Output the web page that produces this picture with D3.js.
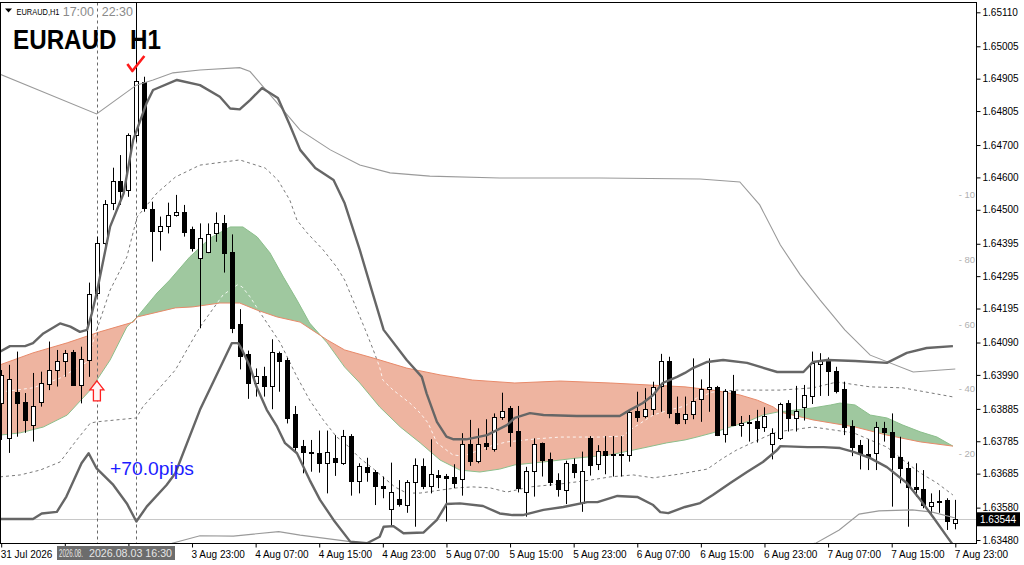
<!DOCTYPE html>
<html><head><meta charset="utf-8">
<script src="https://cdn.jsdelivr.net/npm/d3@7"></script>
<style>
body{margin:0;background:#fff;}
svg{display:block;font-family:"Liberation Sans",Arial,sans-serif;}
</style></head>
<body><svg id="c" width="1024" height="565"></svg>
<script>
// ---------- DATA ----------
const candleOpen = [1.63903,1.63794,1.63936,1.63905,1.63835,1.63907,1.63962,1.64005,1.64034,1.64062,
1.63959,1.64036,1.64242,1.64397,1.64520,1.64590,1.64561,1.64731,1.64896,1.64502,
1.64435,1.64451,1.64484,1.64492,1.64440,1.64352,1.64371,1.64429,1.64458,1.64371,
1.64147,1.64055,1.63966,1.63988,1.63957,1.64059,1.64036,1.63868,1.63770,1.63751,
1.63750,1.63717,1.63734,1.63719,1.63801,1.63663,1.63706,1.63691,1.63647,1.63576,
1.63607,1.63589,1.63660,1.63709,1.63648,1.63681,1.63678,1.63676,1.63668,1.63776,
1.63724,1.63779,1.63761,1.63859,1.63887,1.63817,1.63627,1.63693,1.63779,1.63729,
1.63665,1.63634,1.63714,1.63593,1.63794,1.63715,1.63755,1.63745,1.63746,1.63743,
1.63878,1.63863,1.63884,1.63956,1.64034,1.63873,1.63853,1.63868,1.63915,1.63946,
1.63952,1.63807,1.63940,1.63834,1.63844,1.63848,1.63830,1.63776,1.63796,1.63904,
1.63856,1.63890,1.63926,1.64024,1.64038,1.64003,1.63946,1.63832,1.63773,1.63746,
1.63748,1.63825,1.63815,1.63737,1.63703,1.63645,1.63638,1.63585,1.63601,1.63604,1.63533];
const candleHigh = [1.64005,1.64021,1.64062,1.63934,1.63996,1.64000,1.64093,1.64067,1.64067,1.64067,
1.64077,1.64275,1.64417,1.64530,1.64630,1.64669,1.64736,1.64910,1.64911,1.64525,
1.64479,1.64522,1.64546,1.64515,1.64448,1.64458,1.64458,1.64492,1.64484,1.64424,
1.64193,1.64065,1.64010,1.64015,1.64100,1.64062,1.64042,1.63894,1.63789,1.63789,
1.63818,1.63818,1.63804,1.63820,1.63807,1.63717,1.63734,1.63696,1.63676,1.63719,
1.63665,1.63665,1.63732,1.63732,1.63791,1.63696,1.63684,1.63714,1.63810,1.63851,
1.63825,1.63853,1.63871,1.63935,1.63894,1.63894,1.63706,1.63794,1.63781,1.63750,
1.63686,1.63725,1.63732,1.63753,1.63801,1.63773,1.63801,1.63801,1.63801,1.63882,
1.63938,1.63949,1.63969,1.64055,1.64046,1.63923,1.63923,1.64041,1.63976,1.64041,
1.63956,1.63946,1.63990,1.63863,1.63866,1.63882,1.63890,1.63825,1.63904,1.63912,
1.63956,1.63959,1.64062,1.64057,1.64044,1.64015,1.63969,1.63850,1.63789,1.63791,
1.63845,1.63845,1.63871,1.63799,1.63722,1.63717,1.63696,1.63624,1.63634,1.63609,1.63604];
const candleLow = [1.63789,1.63749,1.63799,1.63811,1.63784,1.63892,1.63943,1.63954,1.63984,1.63956,
1.63902,1.63984,1.64232,1.64381,1.64499,1.64515,1.64540,1.64710,1.64494,1.64340,
1.64374,1.64427,1.64479,1.64417,1.64371,1.64134,1.64366,1.64401,1.64306,1.64119,
1.64007,1.63916,1.63923,1.63923,1.63884,1.63938,1.63840,1.63753,1.63686,1.63691,
1.63688,1.63624,1.63678,1.63712,1.63617,1.63624,1.63660,1.63588,1.63609,1.63521,
1.63583,1.63564,1.63521,1.63637,1.63624,1.63640,1.63537,1.63640,1.63617,1.63709,
1.63717,1.63758,1.63753,1.63851,1.63768,1.63627,1.63552,1.63614,1.63676,1.63647,
1.63614,1.63591,1.63671,1.63567,1.63679,1.63696,1.63683,1.63676,1.63676,1.63722,
1.63845,1.63856,1.63866,1.63876,1.63856,1.63837,1.63838,1.63853,1.63845,1.63876,
1.63801,1.63781,1.63832,1.63799,1.63784,1.63781,1.63814,1.63729,1.63789,1.63815,
1.63815,1.63849,1.63900,1.63925,1.63925,1.63933,1.63804,1.63739,1.63698,1.63696,
1.63696,1.63784,1.63583,1.63655,1.63521,1.63614,1.63578,1.63557,1.63564,1.63511,1.63513];
const candleClose = [1.63990,1.63976,1.63902,1.63851,1.63895,1.63964,1.64005,1.64033,1.64059,1.63959,
1.64039,1.64239,1.64397,1.64518,1.64590,1.64559,1.64730,1.64899,1.64505,1.64435,
1.64450,1.64484,1.64492,1.64432,1.64381,1.64412,1.64425,1.64458,1.64367,1.64134,
1.64048,1.63966,1.63988,1.63957,1.64062,1.64033,1.63858,1.63768,1.63751,1.63749,
1.63717,1.63751,1.63720,1.63801,1.63662,1.63709,1.63691,1.63647,1.63641,1.63629,
1.63591,1.63660,1.63712,1.63647,1.63684,1.63676,1.63672,1.63657,1.63776,1.63724,
1.63776,1.63770,1.63859,1.63878,1.63815,1.63640,1.63693,1.63776,1.63727,1.63660,
1.63638,1.63717,1.63691,1.63693,1.63712,1.63755,1.63743,1.63742,1.63742,1.63876,
1.63859,1.63884,1.63954,1.64034,1.63873,1.63842,1.63868,1.63909,1.63946,1.63952,
1.63804,1.63940,1.63835,1.63840,1.63840,1.63827,1.63864,1.63810,1.63900,1.63856,
1.63878,1.63928,1.64026,1.64033,1.64003,1.63941,1.63830,1.63768,1.63748,1.63735,
1.63828,1.63813,1.63737,1.63701,1.63643,1.63638,1.63588,1.63598,1.63598,1.63540,1.63544];

const priceTicks = [1.65110,1.65005,1.64905,1.64805,1.64700,1.64600,1.64500,1.64395,1.64295,
1.64195,1.64090,1.63990,1.63885,1.63785,1.63685,1.63580,1.63480];
const lastPrice = 1.63544;
const timeTickIdx = [0,8,16,24,32,40,48,56,64,72,80,88,96,104,112,120];
// the 3 Aug 07:00 / 15:00 labels are hidden under the crosshair date box in the reference
const timeTickLabels = ["31 Jul 2026","","","3 Aug 23:00","4 Aug 07:00","4 Aug 15:00",
"4 Aug 23:00","5 Aug 07:00","5 Aug 15:00","5 Aug 23:00","6 Aug 07:00","6 Aug 15:00","6 Aug 23:00",
"7 Aug 07:00","7 Aug 15:00","7 Aug 23:00"];
const oscLevels = ["10","80","60","40","20"];
const oscLevelValues = [100,80,60,40,20];

const outerUpper = [[-0.15,1.64919],[12,1.64796],[17,1.64885],[19.1,1.64901],[21.6,1.64923],[25,1.64932],[30,1.64939],[31.3,1.64927],[34.4,1.64839],[37.6,1.64746],[41.4,1.64685],[45.1,1.64638],[48.9,1.64614],[53.9,1.64604],[62.7,1.64598],[75.3,1.64598],[87.9,1.64595],[92.9,1.64586],[95.4,1.64515],[98,1.64391],[100.5,1.64299],[103,1.64221],[106.1,1.64129],[109.3,1.64051],[114.7,1.63999],[120,1.64008]];
const outerLower = [[12,1.63380],[17,1.63400],[21.5,1.63470],[25,1.63493],[29.2,1.63492],[34.9,1.63506],[37.6,1.63495],[43.9,1.63475],[46,1.63470],[50,1.63440],[65,1.63400],[80,1.63400],[95,1.63430],[102.5,1.63471],[105.4,1.63511],[107.9,1.63560],[110.4,1.63570],[114.6,1.63573],[117.1,1.63566],[120,1.63548]];
const bandUpper = [[-0.15,1.64062],[1.1,1.64079],[3,1.64079],[4,1.64088],[5.3,1.64118],[7.4,1.64149],[8.7,1.64139],[9.9,1.64123],[10.8,1.64129],[11.4,1.64180],[12,1.64242],[13.7,1.64448],[15.4,1.64551],[16.6,1.64716],[18.3,1.64830],[19.1,1.64870],[22.1,1.64901],[25,1.64885],[27.5,1.64849],[28.8,1.64813],[30,1.64810],[31.3,1.64839],[32.8,1.64876],[34.8,1.64845],[36.3,1.64762],[37.6,1.64685],[39.5,1.64629],[41.8,1.64592],[43.2,1.64520],[45.1,1.64376],[46.6,1.64252],[48.1,1.64129],[51,1.64036],[52.9,1.63984],[53.5,1.63933],[54.8,1.63845],[56,1.63799],[56.9,1.63791],[58.5,1.63791],[61.1,1.63804],[63.6,1.63835],[64.6,1.63857],[66.5,1.63872],[68.2,1.63866],[72.4,1.63863],[77.8,1.63863],[79.1,1.63882],[80.7,1.63903],[82,1.63928],[83.2,1.63965],[85,1.63984],[86,1.63996],[87,1.64011],[88.8,1.64030],[90.8,1.64036],[93.8,1.64027],[97.6,1.63999],[100.9,1.63999],[102.1,1.64030],[103.9,1.64036],[107.4,1.64033],[111.4,1.64027],[113.9,1.64058],[116.4,1.64073],[119.7,1.64079]];
const bandLower = [[-0.15,1.63545],[4,1.63545],[5.1,1.63562],[7,1.63567],[8.2,1.63614],[10.1,1.63717],[11,1.63748],[12,1.63701],[14.1,1.63650],[15.8,1.63593],[17,1.63537],[18.3,1.63583],[20.8,1.63650],[21.9,1.63686],[25,1.63882],[29,1.64088],[29.8,1.64088],[30.2,1.64072],[31.3,1.64015],[32.1,1.63954],[33.4,1.63882],[34.7,1.63830],[35.7,1.63779],[37.2,1.63748],[38.8,1.63665],[40.1,1.63604],[41.8,1.63542],[43.9,1.63475],[46,1.63470],[47.6,1.63490],[48.1,1.63521],[49.3,1.63523],[50.6,1.63501],[53.1,1.63503],[54.8,1.63542],[56,1.63591],[57.7,1.63593],[60.6,1.63585],[62.7,1.63562],[64.3,1.63557],[65.6,1.63557],[68.2,1.63573],[70.7,1.63582],[73.7,1.63597],[75,1.63597],[77.5,1.63616],[80,1.63613],[82,1.63588],[82.9,1.63566],[83.9,1.63563],[85,1.63573],[86,1.63582],[87.9,1.63594],[89.5,1.63619],[91.7,1.63656],[93.8,1.63690],[95.8,1.63721],[97.6,1.63758],[98,1.63770],[101.4,1.63767],[103.4,1.63767],[105.5,1.63764],[107.2,1.63752],[109.3,1.63733],[111.4,1.63705],[113.9,1.63656],[115.6,1.63604],[117.2,1.63551],[119,1.63489],[120,1.63455]];
const dashUpper = [[-0.15,1.63937],[4,1.63950],[7.4,1.63980],[10.8,1.64030],[11.8,1.64113],[13.7,1.64252],[15.8,1.64354],[17.1,1.64478],[19.6,1.64552],[21.9,1.64601],[25,1.64638],[30,1.64654],[33.2,1.64629],[34.8,1.64592],[36.3,1.64530],[37.2,1.64468],[38.5,1.64428],[40.5,1.64376],[42.2,1.64323],[43.2,1.64283],[45.8,1.64129],[46.8,1.64067],[47.6,1.64014],[48,1.63974],[49.3,1.63943],[51.4,1.63903],[52.7,1.63872],[53.7,1.63841],[54.8,1.63780],[56.8,1.63743],[58.1,1.63739],[60.2,1.63758],[61.9,1.63773],[63.6,1.63783],[67.1,1.63792],[70.3,1.63798],[75.3,1.63798],[78.2,1.63801],[79.1,1.63820],[82,1.63866],[84.1,1.63882],[86,1.63894],[87.5,1.63919],[89.5,1.63937],[92.5,1.63943],[98,1.63943],[102.1,1.63950],[105.1,1.63968],[109.3,1.63953],[113.4,1.63950],[119.7,1.63922]];
const dashLower = [[-0.15,1.63675],[2.4,1.63681],[4.9,1.63696],[7.4,1.63721],[9.5,1.63789],[11.2,1.63841],[12,1.63845],[17,1.63857],[17.8,1.63891],[21.9,1.64005],[25,1.64138],[27.9,1.64237],[29.7,1.64268],[30.3,1.64262],[31.3,1.64231],[32.6,1.64181],[35.1,1.64089],[37.2,1.63984],[38.8,1.63912],[40.5,1.63851],[42.2,1.63798],[43.2,1.63780],[45.1,1.63733],[47,1.63696],[48,1.63675],[49.5,1.63644],[51,1.63625],[52.7,1.63625],[55.2,1.63634],[57.3,1.63641],[59.3,1.63644],[61.5,1.63641],[63.6,1.63628],[66.5,1.63644],[70.3,1.63653],[74.1,1.63665],[76.6,1.63675],[79.5,1.63681],[82,1.63672],[85.4,1.63684],[88.8,1.63699],[90.8,1.63733],[92.5,1.63758],[93.8,1.63773],[96.3,1.63801],[97.6,1.63814],[102.1,1.63829],[107.2,1.63811],[111.4,1.63767],[113.9,1.63718],[115.6,1.63687],[117.7,1.63656],[119.7,1.63619]];
const cloudA = [[-0.15,1.64021],[4,1.64058],[8.3,1.64089],[12.4,1.64123],[16.6,1.64153],[17.1,1.64169],[21.9,1.64197],[24.1,1.64200],[27.5,1.64212],[30,1.64212],[32.2,1.64190],[34.7,1.64169],[37.6,1.64153],[39.7,1.64119],[41,1.64098],[43.2,1.64067],[46.8,1.64042],[51,1.64011],[55.2,1.63990],[59.3,1.63974],[64.6,1.63965],[70.3,1.63971],[76.6,1.63965],[86,1.63953],[89.5,1.63943],[92.9,1.63928],[95.1,1.63912],[97.1,1.63891],[98,1.63875],[102.1,1.63851],[107.4,1.63829],[111.4,1.63804],[115.6,1.63783],[119.7,1.63770]];
const cloudB = [[-0.15,1.63804],[2.4,1.63811],[5.3,1.63829],[8.3,1.63866],[11.2,1.63943],[13.7,1.64036],[15.8,1.64138],[17.1,1.64169],[19.6,1.64243],[21.2,1.64283],[23.7,1.64354],[26.3,1.64413],[28.8,1.64447],[30.4,1.64447],[32.2,1.64416],[33.8,1.64367],[35.5,1.64292],[37.2,1.64221],[38.8,1.64150],[41,1.64089],[43.2,1.64014],[45.1,1.63965],[47.6,1.63891],[50.2,1.63829],[52.7,1.63780],[55.2,1.63727],[57.7,1.63696],[60.2,1.63690],[62.7,1.63699],[64.6,1.63712],[68.2,1.63721],[72.4,1.63733],[76.6,1.63743],[80.7,1.63764],[83.7,1.63780],[86,1.63789],[87.5,1.63798],[89.5,1.63811],[91.7,1.63829],[93.8,1.63845],[95.8,1.63866],[97.6,1.63875],[100.1,1.63882],[102.1,1.63888],[104.3,1.63897],[105.5,1.63903],[107.4,1.63897],[109.3,1.63866],[111.4,1.63857],[113.4,1.63835],[115.6,1.63814],[117.7,1.63798],[119.7,1.63770]];
const markerIdx = [12,17];
const markerLabels = ["17:00","22:30"];

// ---------- LAYOUT ----------
const svg = d3.select('#c');
const PR = 976.5, PT = 2.5, PB = 543.5;
const x = d3.scaleLinear().domain([0,120]).range([1.2,955.3]);
const y = d3.scaleLinear().domain([1.63480,1.65110]).range([540,12.3]);
const osc = d3.scaleLinear().domain([20,100]).range([453.5,195]);

const defs = svg.append('defs');
defs.append('clipPath').attr('id','plot').append('rect')
  .attr('x',1).attr('y',3).attr('width',975).attr('height',540);
const lineGen = d3.line().x(d=>x(d[0])).y(d=>y(d[1]));
const areaBelow = d3.area().x(d=>x(d[0])).y0(700).y1(d=>y(d[1]));
const areaAbove = d3.area().x(d=>x(d[0])).y0(-100).y1(d=>y(d[1]));
[['belowA',areaBelow,cloudA],['aboveA',areaAbove,cloudA],['belowB',areaBelow,cloudB],['aboveB',areaAbove,cloudB]]
  .forEach(([id,gen,data])=>defs.append('clipPath').attr('id',id).append('path').attr('d',gen(data)));

const plot = svg.append('g').attr('clip-path','url(#plot)');

// last price line
plot.append('line').attr('x1',0).attr('x2',PR).attr('y1',Math.round(y(lastPrice))+0.5).attr('y2',Math.round(y(lastPrice))+0.5)
  .attr('stroke','#c8c8c8').attr('stroke-width',1);

// gray dotted bands
[dashUpper,dashLower].forEach(d=>plot.append('path').attr('d',lineGen(d)).attr('fill','none')
  .attr('stroke','#7a7a7a').attr('stroke-width',1).attr('stroke-dasharray','3,3'));

// cloud fills
function fillRegion(c1,c2,color){
  const g = plot.append('g').attr('clip-path',`url(#${c1})`).append('g').attr('clip-path',`url(#${c2})`);
  g.append('rect').attr('x',0).attr('y',0).attr('width',980).attr('height',560).attr('fill',color);
  [dashUpper,dashLower].forEach(d=>g.append('path').attr('d',lineGen(d)).attr('fill','none')
    .attr('stroke','#ffffff').attr('stroke-width',1).attr('stroke-dasharray','3,3').attr('opacity',0.85));
}
fillRegion('belowA','aboveB','#eeb4a0');
fillRegion('aboveA','belowB','#9fc89f');
plot.append('path').attr('d',lineGen(cloudB)).attr('fill','none').attr('stroke','#8cbf8c').attr('stroke-width',1);
plot.append('path').attr('d',lineGen(cloudA)).attr('fill','none').attr('stroke','#e88a6a').attr('stroke-width',1);

// vertical marker lines
markerIdx.forEach((m,k)=>{
  const vx = Math.round(x(m))+0.5;
  plot.append('line').attr('x1',vx).attr('x2',vx).attr('y1',PT).attr('y2',PB)
    .attr('stroke','#6a6a6a').attr('stroke-dasharray','3,3');
});
{
  const vx = Math.round(x(markerIdx[1]))+0.5;
  plot.append('line').attr('x1',vx).attr('x2',vx).attr('y1',PT).attr('y2',y(candleHigh[17]))
    .attr('stroke','#000');
}

// candles
const cg = plot.append('g');
candleOpen.forEach((o,i)=>{
  const c = candleClose[i], h = candleHigh[i], l = candleLow[i];
  const cx = Math.round(x(i));
  const bull = c >= o;
  cg.append('line').attr('x1',cx+0.5).attr('x2',cx+0.5).attr('y1',y(h)).attr('y2',y(l))
    .attr('stroke','#000').attr('stroke-width',1);
  const top = Math.round(y(Math.max(o,c))), bot = Math.round(y(Math.min(o,c)));
  cg.append('rect').attr('x',cx-1.5).attr('y',top+0.5).attr('width',4).attr('height',Math.max(1,bot-top))
    .attr('fill',bull?'#fff':'#000').attr('stroke','#000').attr('stroke-width',1);
});

// band lines
plot.append('path').attr('d',lineGen(outerUpper)).attr('fill','none').attr('stroke','#9a9a9a').attr('stroke-width',1.1);
plot.append('path').attr('d',lineGen(outerLower)).attr('fill','none').attr('stroke','#9a9a9a').attr('stroke-width',1.1);
plot.append('path').attr('d',lineGen(bandUpper)).attr('fill','none').attr('stroke','#666').attr('stroke-width',2.4).attr('stroke-linejoin','round');
plot.append('path').attr('d',lineGen(bandLower)).attr('fill','none').attr('stroke','#666').attr('stroke-width',2.4).attr('stroke-linejoin','round');

// oscillator level labels
oscLevels.forEach((t,k)=>{
  svg.append('text').attr('x',975).attr('y',osc(oscLevelValues[k])).attr('dy','0.35em')
    .attr('text-anchor','end').attr('font-size','9.5px').attr('fill','#b0b0b0').text('- '+t);
});

// frame
svg.append('rect').attr('x',0.5).attr('y',PT).attr('width',PR-0.5).attr('height',PB-PT)
  .attr('fill','none').attr('stroke','#000').attr('stroke-width',1);

// right axis
const ax = svg.append('g').attr('transform',`translate(${PR},0)`)
  .call(d3.axisRight(y).tickValues(priceTicks).tickFormat(d3.format('.5f')).tickSize(4).tickSizeOuter(0).tickPadding(2));
ax.select('.domain').remove();
ax.selectAll('text').attr('font-size','10px').attr('fill','#000').attr('font-family','"Liberation Sans",Arial,sans-serif');
ax.selectAll('line').attr('stroke','#000');

// last price label
{
  const ly = y(lastPrice);
  svg.append('rect').attr('x',977).attr('y',ly-7).attr('width',43).attr('height',14).attr('fill','#000');
  svg.append('text').attr('x',980).attr('y',ly).attr('dy','0.35em').attr('font-size','10px').attr('fill','#fff').text(lastPrice.toFixed(5));
}

// bottom axis
const bx = svg.append('g').attr('transform',`translate(0,${PB})`)
  .call(d3.axisBottom(x).tickValues(timeTickIdx).tickFormat((d,i)=>timeTickLabels[i]).tickSize(4).tickSizeOuter(0).tickPadding(3));
bx.select('.domain').remove();
bx.selectAll('text').filter(function(){return this.textContent==='';}).remove();
bx.selectAll('text').attr('text-anchor','start').attr('dx','-1').attr('font-size','10px').attr('fill','#000')
  .attr('font-family','"Liberation Sans",Arial,sans-serif');
bx.selectAll('line').attr('stroke','#000');

// crosshair date boxes
svg.append('rect').attr('x',57).attr('y',546).attr('width',118).attr('height',14).attr('fill','#6c6c6c');
svg.append('text').attr('x',59).attr('y',557).attr('font-size','10px').attr('fill','#e6e6e6')
  .attr('textLength',24).attr('lengthAdjust','spacingAndGlyphs').text('2026.08.');
svg.append('text').attr('x',89).attr('y',557).attr('font-size','10.5px').attr('fill','#e6e6e6')
  .attr('textLength',83).attr('lengthAdjust','spacingAndGlyphs').text('2026.08.03 16:30');

// marker labels at top
markerIdx.forEach((m,k)=>{
  svg.append('text').attr('x',Math.round(x(m))-3).attr('y',16).attr('text-anchor','end')
    .attr('font-size','12.5px').attr('fill','#8a8a8a').text(markerLabels[k]);
});

// top-left symbol
svg.append('path').attr('d','M5,8.5 L12,8.5 L8.5,12.5 Z').attr('fill','#000');
svg.append('text').attr('x',16.5).attr('y',14.5).attr('font-size','9.5px').attr('fill','#000')
  .attr('textLength',43).attr('lengthAdjust','spacingAndGlyphs').text('EURAUD,H1');
svg.append('text').attr('x',13).attr('y',48.5).attr('font-size','27px').attr('font-weight','bold').attr('fill','#000')
  .attr('textLength',148).attr('lengthAdjust','spacingAndGlyphs').text('EURAUD\u00a0\u00a0H1');

// check mark above the spike candle
{
  const cx = x(17), cy = y(candleHigh[17]);
  svg.append('path').attr('d',`M${cx-9},${cy-13} L${cx-4},${cy-6} L${cx+8},${cy-21}`)
    .attr('fill','none').attr('stroke','#ff1a1a').attr('stroke-width',2.6).attr('stroke-linejoin','round');
}
// red up arrow under candle 12
{
  const cx = x(12)+0.3, ty = y(candleLow[11]) + 4;
  svg.append('path').attr('d',`M${cx},${ty} L${cx+7},${ty+9} L${cx+3.5},${ty+9} L${cx+3.5},${ty+20} L${cx-3.5},${ty+20} L${cx-3.5},${ty+9} L${cx-7},${ty+9} Z`)
    .attr('fill','#fff5f5').attr('stroke','#ff2020').attr('stroke-width',1.3);
}
// pips label
svg.append('text').attr('x',110).attr('y',475).attr('font-size','19px').attr('fill','#1c1cff')
  .attr('textLength',84).attr('lengthAdjust','spacingAndGlyphs').text('+70.0pips');
</script>
</body></html>
